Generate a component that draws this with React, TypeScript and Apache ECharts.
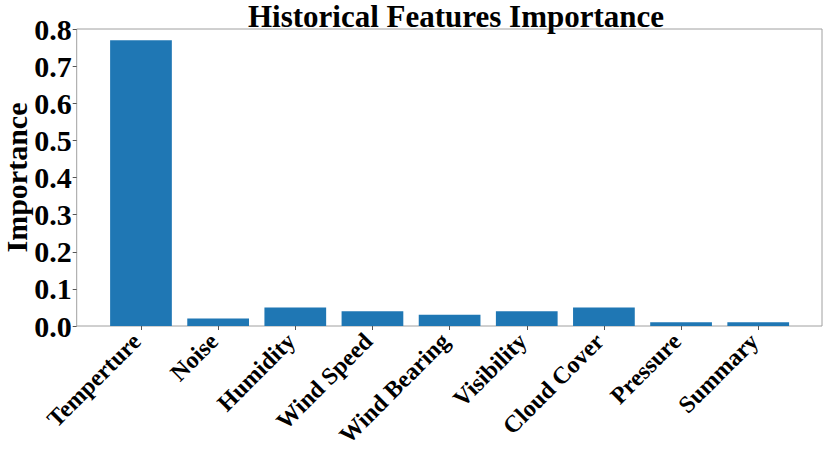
import React, { useEffect, useRef } from "react";
import * as echarts from "echarts";

const categories = ["Temperture", "Noise", "Humidity", "Wind Speed", "Wind Bearing", "Visibility", "Cloud Cover", "Pressure", "Summary"];
const importance = [0.77, 0.02, 0.05, 0.04, 0.03, 0.04, 0.05, 0.01, 0.01];
const titleText = "Historical Features Importance";
const yName = "Importance";

const FONT = "'Liberation Serif', 'Times New Roman', serif";

export default function App() {
  const ref = useRef<HTMLDivElement>(null);
  useEffect(() => {
    const chart = echarts.init(ref.current!, null, { renderer: "svg" });
    chart.setOption({
      animation: false,
      backgroundColor: "#fff",
      title: {
        text: titleText,
        left: 451,
        top: -4,
        textAlign: "center",
        textStyle: { fontFamily: FONT, fontWeight: "bold", fontSize: 31, color: "#000" },
      },
      grid: [
        { left: 76.7, right: 8, top: 29, bottom: 125, show: true, borderColor: "#a0a0a0", borderWidth: 1, containLabel: false, outerBoundsMode: "none" },
        { left: 102.4, right: 33.2, top: 29, bottom: 125, containLabel: false, outerBoundsMode: "none" },
      ],
      xAxis: [
        { type: "value", gridIndex: 0, show: false, min: 0, max: 1 },
        {
          type: "category",
          gridIndex: 1,
          data: categories,
          axisLine: { show: false },
          axisTick: { show: true, alignWithLabel: true, length: 4, lineStyle: { color: "#555" } },
          axisLabel: {
            rotate: 45,
            interval: 0,
            margin: 7,
            padding: [0, 6, 0, 0],
            fontFamily: FONT,
            fontWeight: "bold",
            fontSize: 24,
            color: "#000",
          },
        },
      ],
      yAxis: [
        {
          type: "value",
          gridIndex: 0,
          min: 0,
          max: 0.8,
          interval: 0.1,
          name: yName,
          nameLocation: "middle",
          nameGap: 45,
          nameRotate: 90,
          nameMoveOverlap: false,
          nameTextStyle: { fontFamily: FONT, fontWeight: "bold", fontSize: 30, color: "#000" },
          axisLine: { show: false },
          splitLine: { show: false },
          axisTick: { show: true, length: 4, lineStyle: { color: "#555" } },
          axisLabel: {
            margin: 5,
            fontFamily: FONT,
            fontWeight: "bold",
            fontSize: 30,
            color: "#000",
            formatter: (v: number) => v.toFixed(1),
          },
        },
        { type: "value", gridIndex: 1, min: 0, max: 0.8, show: false },
      ],
      series: [
        {
          type: "bar",
          xAxisIndex: 1,
          yAxisIndex: 1,
          data: importance,
          barCategoryGap: "20%",
          itemStyle: { color: "#1f77b4" },
        },
      ],
    });
    return () => chart.dispose();
  }, []);
  return <div ref={ref} style={{ position: "fixed", left: 0, top: 0, width: 830, height: 451 }} />;
}
